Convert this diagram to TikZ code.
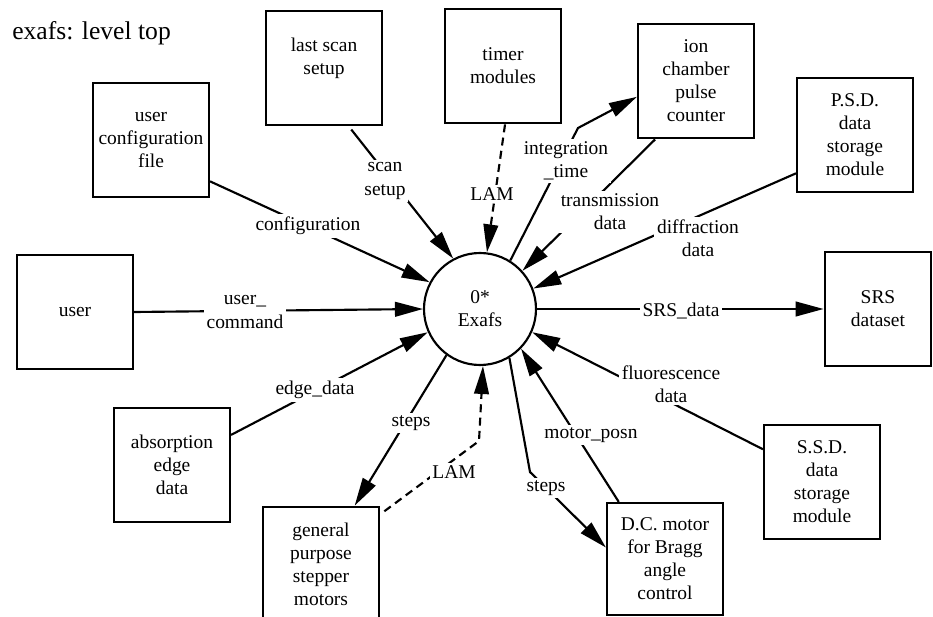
\documentclass[tikz,border=0pt]{standalone}
\usepackage{fontspec}
\setmainfont{Liberation Serif}
\usetikzlibrary{arrows.meta}
\newcommand\dfdfont{\fontsize{14.6pt}{17.3pt}\selectfont}
\begin{document}
\begin{tikzpicture}[x=0.75pt,y=-0.75pt,
  box/.style={draw,line width=1.6pt,minimum width=87pt,minimum height=86pt,inner sep=0pt,align=center,font=\dfdfont},
  lbl/.style={fill=white,inner sep=2pt,align=center,font=\dfdfont},
  flow/.style={line width=1.6pt,-{Triangle[length=21pt,width=11pt]}},
  dflow/.style={flow,dash pattern=on 6pt off 4pt}]
\useasboundingbox (0,0) rectangle (933,617);
\node[anchor=base west,inner sep=0pt,font=\fontsize{19.2pt}{22pt}\selectfont] (title) at (12,40) {exafs: level top};
% boxes
\node[box] (ucf) at (151,140) {user\\configuration\\file};
\node[box] (lss) at (324,68) {last scan\\setup\\[0pt]\mbox{}};
\node[box] (tm) at (503,66) {timer\\modules};
\node[box] (icpc) at (696,81) {ion\\chamber\\pulse\\counter};
\node[box] (psd) at (855,135) {P.S.D.\\data\\storage\\module};
\node[box,minimum width=80pt] (srs) at (878,309) {SRS\\dataset};
\node[box] (user) at (75,312) {user};
\node[box] (aed) at (172,465) {absorption\\edge\\data};
\node[box] (gpsm) at (321,564) {general\\purpose\\stepper\\motors};
\node[box,minimum height=84pt] (dcm) at (665,559) {D.C. motor\\for Bragg\\angle\\control};
\node[box,minimum height=85pt] (ssd) at (822,482) {S.S.D.\\data\\storage\\module};
\node[circle,draw,line width=1.6pt,minimum size=84pt,inner sep=0pt,align=center,font=\dfdfont] (circ) at (480,309) {0*\\Exafs};
% bend points
\coordinate (k1) at (578,128);
\coordinate (k2) at (530,472);
\coordinate (k3) at (479,441);
% connectors
\draw[flow] (ucf.-35) -- (circ.152);
\draw[flow,shorten <=3pt] (lss.-67) -- (circ.118);
\draw[dflow] (tm.-88) -- (circ.83);
\draw[flow] (circ.58) -- (k1) -- (icpc.195);
\draw[flow] (icpc.-125) -- (circ.42);
\draw[flow] (psd.-147) -- (circ.21);
\draw[flow] (circ.east) -- (srs.west);
\draw[flow] (user.east) -- (circ.west);
\draw[flow] (aed.27) -- (circ.204);
\draw[flow] (circ.-126) -- (gpsm.60);
\draw[dflow,shorten <=4pt] (gpsm.40) -- (k3) -- (circ.-87);
\draw[flow] (circ.-59) -- (k2) -- (dcm.169);
\draw[flow] (dcm.129) -- (circ.-44);
\draw[flow] (ssd.151) -- (circ.-24);
% labels
\node[lbl] (lconf) at (308,226) {configuration};
\node[lbl] (lscan) at (385,181) {scan\\setup};
\node[lbl] (llamA) at (492,194) {LAM};
\node[lbl] (lint) at (566,161) {integration\\\_time};
\node[lbl] (ltrans) at (610,212) {transmission\\data};
\node[lbl] (ldiff) at (698,238) {diffraction\\data};
\node[lbl] (lsrs) at (681,311) {SRS\_data};
\node[lbl] (lucmd) at (245,312) {user\_\\command};
\node[lbl] (ledge) at (315,390) {edge\_data};
\node[lbl] (lstepsA) at (411,423) {steps};
\node[lbl] (llamB) at (454,472) {LAM};
\node[lbl] (lstepsB) at (546,488) {steps};
\node[lbl] (lmotor) at (591,435) {motor\_posn};
\node[lbl] (lfluo) at (671,384) {fluorescence\\data};
\end{tikzpicture}
\end{document}
